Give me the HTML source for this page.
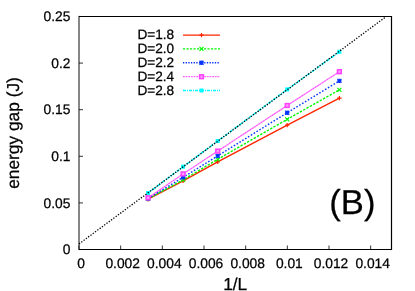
<!DOCTYPE html>
<html><head><meta charset="utf-8"><title>plot</title>
<style>html,body{margin:0;padding:0;background:#fff;}svg{display:block;will-change:transform;}text{text-rendering:geometricPrecision;stroke:#000;stroke-width:0.25px;font-family:"Liberation Sans",sans-serif;fill:#000;}</style></head>
<body>
<svg width="415" height="291" viewBox="0 0 415 291">
<rect width="415" height="291" fill="#fff"/>
<polyline points="148.1,199.2 183.1,180.9 217.7,161.9 287.2,125.1 339.4,98.1" fill="none" stroke="#ff2600" stroke-width="1.4"/>
<path d="M145.9,199.2H150.29999999999998M148.1,197.0V201.39999999999998" stroke="#ff2600" stroke-width="1.2" fill="none"/>
<path d="M180.9,180.9H185.29999999999998M183.1,178.70000000000002V183.1" stroke="#ff2600" stroke-width="1.2" fill="none"/>
<path d="M215.5,161.9H219.89999999999998M217.7,159.70000000000002V164.1" stroke="#ff2600" stroke-width="1.2" fill="none"/>
<path d="M285.0,125.1H289.4M287.2,122.89999999999999V127.3" stroke="#ff2600" stroke-width="1.2" fill="none"/>
<path d="M337.2,98.1H341.59999999999997M339.4,95.89999999999999V100.3" stroke="#ff2600" stroke-width="1.2" fill="none"/>
<polyline points="148.1,198.8 183.1,179.9 217.7,159.3 287.2,119.3 339.4,89.8" fill="none" stroke="#00f900" stroke-width="1.4" stroke-dasharray="2.4 1.4"/>
<path d="M146.1,196.8L150.1,200.8M146.1,200.8L150.1,196.8" stroke="#00f900" stroke-width="1.2" fill="none"/>
<path d="M181.1,177.9L185.1,181.9M181.1,181.9L185.1,177.9" stroke="#00f900" stroke-width="1.2" fill="none"/>
<path d="M215.7,157.3L219.7,161.3M215.7,161.3L219.7,157.3" stroke="#00f900" stroke-width="1.2" fill="none"/>
<path d="M285.2,117.3L289.2,121.3M285.2,121.3L289.2,117.3" stroke="#00f900" stroke-width="1.2" fill="none"/>
<path d="M337.4,87.8L341.4,91.8M337.4,91.8L341.4,87.8" stroke="#00f900" stroke-width="1.2" fill="none"/>
<polyline points="148.1,198.5 183.1,177.3 217.7,155.9 287.2,112.7 339.4,80.9" fill="none" stroke="#0433ff" stroke-width="1.4" stroke-dasharray="1.6 1.75"/>
<path d="M146.1,196.5L150.1,200.5M146.1,200.5L150.1,196.5M145.9,198.5H150.29999999999998M148.1,196.3V200.7" stroke="#0433ff" stroke-width="1.3" fill="none"/>
<path d="M181.1,175.3L185.1,179.3M181.1,179.3L185.1,175.3M180.9,177.3H185.29999999999998M183.1,175.10000000000002V179.5" stroke="#0433ff" stroke-width="1.3" fill="none"/>
<path d="M215.7,153.9L219.7,157.9M215.7,157.9L219.7,153.9M215.5,155.9H219.89999999999998M217.7,153.70000000000002V158.1" stroke="#0433ff" stroke-width="1.3" fill="none"/>
<path d="M285.2,110.7L289.2,114.7M285.2,114.7L289.2,110.7M285.0,112.7H289.4M287.2,110.5V114.9" stroke="#0433ff" stroke-width="1.3" fill="none"/>
<path d="M337.4,78.9L341.4,82.9M337.4,82.9L341.4,78.9M337.2,80.9H341.59999999999997M339.4,78.7V83.10000000000001" stroke="#0433ff" stroke-width="1.3" fill="none"/>
<polyline points="148.1,197.8 183.1,173.9 217.7,151.1 287.2,105.5 339.4,71.7" fill="none" stroke="#ff40ff" stroke-width="1.25" stroke-dasharray="2.4 0.3" stroke-opacity="0.88"/>
<rect x="146.2" y="195.9" width="3.8" height="3.8" stroke="#ff40ff" stroke-width="1.5" fill="#ff9cff"/>
<rect x="181.2" y="172.0" width="3.8" height="3.8" stroke="#ff40ff" stroke-width="1.5" fill="#ff9cff"/>
<rect x="215.79999999999998" y="149.2" width="3.8" height="3.8" stroke="#ff40ff" stroke-width="1.5" fill="#ff9cff"/>
<rect x="285.3" y="103.6" width="3.8" height="3.8" stroke="#ff40ff" stroke-width="1.5" fill="#ff9cff"/>
<rect x="337.5" y="69.8" width="3.8" height="3.8" stroke="#ff40ff" stroke-width="1.5" fill="#ff9cff"/>
<polyline points="148.1,193.0 183.1,166.7 217.7,141.0 287.2,89.4 339.4,51.8" fill="none" stroke="#00fdff" stroke-width="1.6" stroke-dasharray="3 1 1 1"/>
<rect x="146.1" y="191.0" width="4" height="4" fill="#00fdff"/>
<rect x="181.1" y="164.7" width="4" height="4" fill="#00fdff"/>
<rect x="215.7" y="139.0" width="4" height="4" fill="#00fdff"/>
<rect x="285.2" y="87.4" width="4" height="4" fill="#00fdff"/>
<rect x="337.4" y="49.8" width="4" height="4" fill="#00fdff"/>
<line x1="79" y1="243.9" x2="385.6" y2="17.0" stroke="#000" stroke-width="1.3" stroke-dasharray="1.3 1.55"/>
<line x1="183" y1="35.1" x2="220" y2="35.1" stroke="#ff2600" stroke-width="1.4"/>
<path d="M199.3,35.1H203.7M201.5,32.9V37.300000000000004" stroke="#ff2600" stroke-width="1.2" fill="none"/>
<text x="174.2" y="39.15" font-size="13.6" text-anchor="end">D=1.8</text>
<line x1="183" y1="48.9" x2="220" y2="48.9" stroke="#00f900" stroke-width="1.4" stroke-dasharray="2.2 1.3"/>
<path d="M199.5,46.9L203.5,50.9M199.5,50.9L203.5,46.9" stroke="#00f900" stroke-width="1.2" fill="none"/>
<text x="174.2" y="52.95" font-size="13.6" text-anchor="end">D=2.0</text>
<line x1="183" y1="62.7" x2="220" y2="62.7" stroke="#0433ff" stroke-width="1.4" stroke-dasharray="1.3 1.35"/>
<path d="M199.5,60.7L203.5,64.7M199.5,64.7L203.5,60.7M199.3,62.7H203.7M201.5,60.5V64.9" stroke="#0433ff" stroke-width="1.3" fill="none"/>
<text x="174.2" y="66.75" font-size="13.6" text-anchor="end">D=2.2</text>
<line x1="183" y1="76.7" x2="220" y2="76.7" stroke="#ff40ff" stroke-width="1.0" stroke-dasharray="1.8 0.85"/>
<rect x="199.6" y="74.8" width="3.8" height="3.8" stroke="#ff40ff" stroke-width="1.5" fill="#ff9cff"/>
<text x="174.2" y="80.75" font-size="13.6" text-anchor="end">D=2.4</text>
<line x1="183" y1="90.5" x2="220" y2="90.5" stroke="#00fdff" stroke-width="1.4" stroke-dasharray="3 1 1 1"/>
<rect x="199.5" y="88.5" width="4" height="4" fill="#00fdff"/>
<text x="174.2" y="94.55" font-size="13.6" text-anchor="end">D=2.8</text>
<path d="M79.0,16.5H391.5V249.5H79.0" fill="none" stroke="#000" stroke-width="1.2" stroke-linejoin="miter"/>
<line x1="79.0" y1="15.9" x2="79.0" y2="250.1" stroke="#000" stroke-width="0.95"/>
<line x1="79.00" y1="249.5" x2="79.00" y2="245.5" stroke="#000" stroke-width="0.8"/>
<text x="81.00" y="268.2" font-size="13.8" text-anchor="middle">0</text>
<line x1="120.67" y1="249.5" x2="120.67" y2="245.5" stroke="#000" stroke-width="0.8"/>
<text x="122.67" y="268.2" font-size="13.8" text-anchor="middle">0.002</text>
<line x1="162.33" y1="249.5" x2="162.33" y2="245.5" stroke="#000" stroke-width="0.8"/>
<text x="164.33" y="268.2" font-size="13.8" text-anchor="middle">0.004</text>
<line x1="204.00" y1="249.5" x2="204.00" y2="245.5" stroke="#000" stroke-width="0.8"/>
<text x="206.00" y="268.2" font-size="13.8" text-anchor="middle">0.006</text>
<line x1="245.67" y1="249.5" x2="245.67" y2="245.5" stroke="#000" stroke-width="0.8"/>
<text x="247.67" y="268.2" font-size="13.8" text-anchor="middle">0.008</text>
<line x1="287.33" y1="249.5" x2="287.33" y2="245.5" stroke="#000" stroke-width="0.8"/>
<text x="289.33" y="268.2" font-size="13.8" text-anchor="middle">0.01</text>
<line x1="329.00" y1="249.5" x2="329.00" y2="245.5" stroke="#000" stroke-width="0.8"/>
<text x="331.00" y="268.2" font-size="13.8" text-anchor="middle">0.012</text>
<line x1="370.67" y1="249.5" x2="370.67" y2="245.5" stroke="#000" stroke-width="0.8"/>
<text x="372.67" y="268.2" font-size="13.8" text-anchor="middle">0.014</text>
<text x="70.4" y="254.10" font-size="13.8" text-anchor="end">0</text>
<line x1="79.0" y1="202.90" x2="83.0" y2="202.90" stroke="#000" stroke-width="0.8"/>
<text x="70.4" y="207.50" font-size="13.8" text-anchor="end">0.05</text>
<line x1="79.0" y1="156.30" x2="83.0" y2="156.30" stroke="#000" stroke-width="0.8"/>
<text x="70.4" y="160.90" font-size="13.8" text-anchor="end">0.1</text>
<line x1="79.0" y1="109.70" x2="83.0" y2="109.70" stroke="#000" stroke-width="0.8"/>
<text x="70.4" y="114.30" font-size="13.8" text-anchor="end">0.15</text>
<line x1="79.0" y1="63.10" x2="83.0" y2="63.10" stroke="#000" stroke-width="0.8"/>
<text x="70.4" y="67.70" font-size="13.8" text-anchor="end">0.2</text>
<text x="70.4" y="21.10" font-size="13.8" text-anchor="end">0.25</text>
<text x="235.2" y="289.6" font-size="17.33" text-anchor="middle">1/L</text>
<text transform="translate(18.7,133) rotate(-90)" font-size="17.33" text-anchor="middle">energy gap (J)</text>
<text x="352.4" y="214" font-size="34.67" text-anchor="middle">(B)</text>
</svg></body></html>
